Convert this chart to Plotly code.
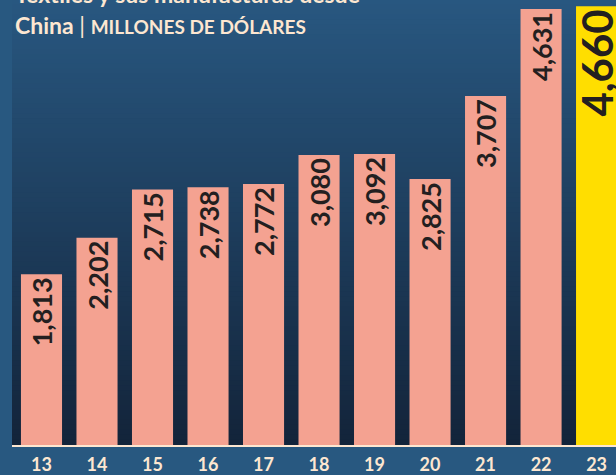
import plotly.graph_objects as go

years = ["13", "14", "15", "16", "17", "18", "19", "20", "21", "22", "23"]
values = [1813, 2202, 2715, 2738, 2772, 3080, 3092, 2825, 3707, 4631, 4660]
bar_colors = ["#f4a291"] * 10 + ["#ffde00"]
label_sizes = [27] * 10 + [42]

title_line1 = "Textiles y sus manufacturas desde"
title_line2 = "China <span style='font-weight:normal'>|</span> <span style='font-size:19px'>MILLONES DE DÓLARES</span>"

cream = "#fde7d1"

fig = go.Figure(go.Bar(
    x=years, y=values,
    marker=dict(color=bar_colors, line=dict(width=0)),
    width=0.74,
    text=[f"{v:,}" for v in values],
    textposition="inside",
    insidetextanchor="end",
    textangle=-90,
    constraintext="none",
    textfont=dict(family="Lato", size=label_sizes, color="#231f20", weight="bold"),
    hoverinfo="skip",
))

# vertical gradient background for the plot panel
top = (0x28, 0x57, 0x80)
bot = (0x13, 0x24, 0x3a)
n = 90
shapes = []
for i in range(n):
    t = i / (n - 1)
    c = tuple(round(top[k] + (bot[k] - top[k]) * t) for k in range(3))
    y1 = 1 - i / n
    y0 = 1 - (i + 1) / n
    shapes.append(dict(type="rect", xref="paper", yref="paper", x0=0, x1=1,
                       y0=y0 - 0.001, y1=y1 + 0.001, fillcolor="rgb(%d,%d,%d)" % c,
                       line=dict(width=0), layer="below"))

fig.update_layout(
    width=616, height=475,
    margin=dict(l=12, r=0, t=0, b=25),
    paper_bgcolor="#285880",
    plot_bgcolor="#1e3c5c",
    showlegend=False,
    shapes=shapes,
    xaxis=dict(type="category", range=[-0.5315, 10.35], showgrid=False,
               showline=True, linecolor=cream, linewidth=2, ticks="",
               tickfont=dict(family="Lato", size=18, color=cream, weight="bold"),
               ticklabelstandoff=2, fixedrange=True),
    yaxis=dict(range=[0, 4727], showgrid=False, showticklabels=False,
               zeroline=False, showline=False, fixedrange=True),
    annotations=[
        dict(text=title_line1, xref="paper", yref="paper", x=0.002, y=1.014,
             xanchor="left", yanchor="middle", showarrow=False,
             font=dict(family="Lato", size=23, color=cream, weight="bold")),
        dict(text=title_line2, xref="paper", yref="paper", x=0.002, y=0.944,
             xanchor="left", yanchor="middle", showarrow=False,
             font=dict(family="Lato", size=23, color=cream, weight="bold")),
    ],
)

fig.write_html(
    "out.html",
    config={"displayModeBar": False},
    post_script="document.body.style.margin='0';document.body.style.overflow='hidden';",
)
